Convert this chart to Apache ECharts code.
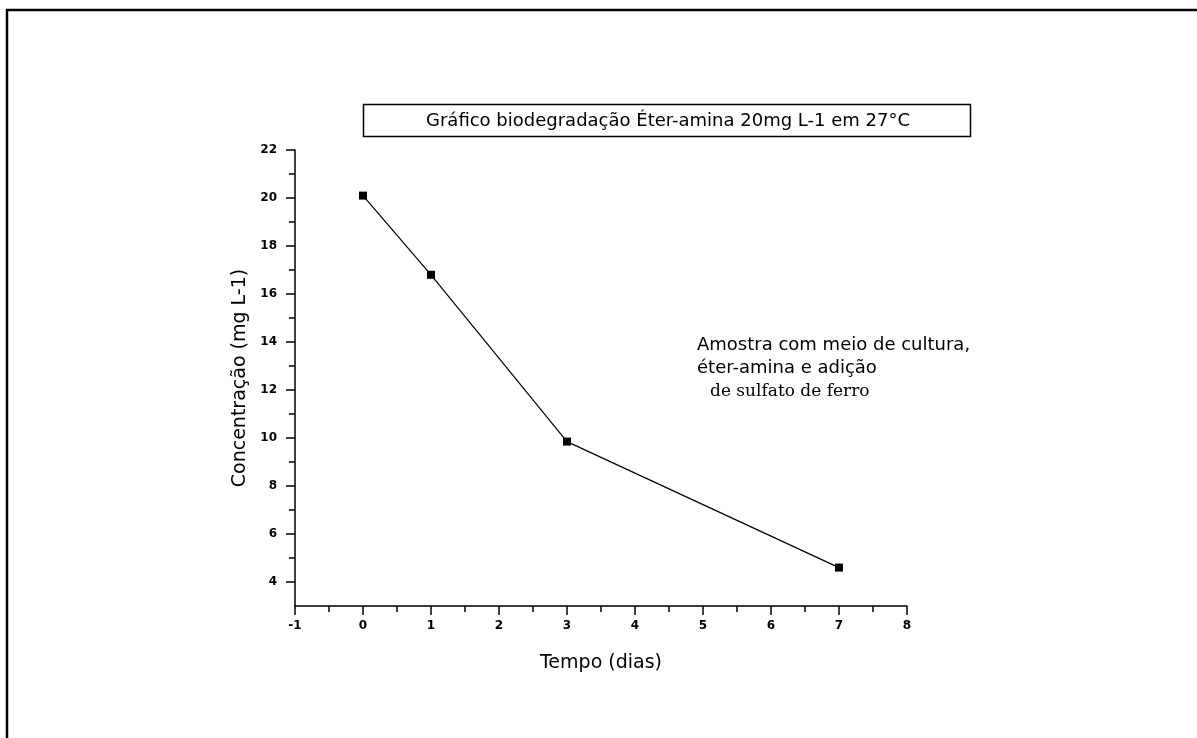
<!DOCTYPE html>
<html>
<head>
<meta charset="utf-8">
<script src="https://cdn.jsdelivr.net/npm/echarts@6/dist/echarts.min.js"></script>
<style>
html,body{margin:0;padding:0;background:#fff;}
#chart{width:1197px;height:738px;}
</style>
</head>
<body>
<div id="chart"></div>
<script>
const days = [0, 1, 3, 7];
const concentration = [20.1, 16.8, 9.85, 4.6];
const yMajorTicks = [4, 6, 8, 10, 12, 14, 16, 18, 20, 22];
const yMinorTicks = [5, 7, 9, 11, 13, 15, 17, 19, 21];
const xRange = [-1, 8];
const yRange = [3, 22];
const titleText = 'Gráfico biodegradação Éter-amina 20mg L-1 em 27°C';
const noteLines = ['Amostra com meio de cultura,', 'éter-amina e adição'];
const noteSerif = 'de sulfato de ferro';
const xName = 'Tempo (dias)';
const yName = 'Concentração (mg L-1)';

const chart = echarts.init(document.getElementById('chart'), null, {renderer: 'canvas'});
const labelFont = {color: '#000', fontFamily: 'DejaVu Sans', fontWeight: 'bold', fontSize: 12};

chart.setOption({
  animation: false,
  backgroundColor: '#fff',
  grid: {left: 295, top: 150, width: 612, height: 456, containLabel: false},
  xAxis: {
    type: 'value', min: xRange[0], max: xRange[1], interval: 1,
    name: xName, nameLocation: 'middle', nameGap: 48,
    nameTextStyle: {color: '#000', fontFamily: 'DejaVu Sans', fontSize: 19},
    axisLine: {show: true, onZero: false, lineStyle: {color: '#000', width: 1.5}},
    axisTick: {show: true, inside: false, length: 9, lineStyle: {color: '#000', width: 1.5}},
    minorTick: {show: true, splitNumber: 2, length: 6, lineStyle: {color: '#000', width: 1.5}},
    axisLabel: Object.assign({margin: 14}, labelFont),
    splitLine: {show: false}
  },
  yAxis: [{
    type: 'value', min: yRange[0], max: yRange[1],
    name: yName, nameLocation: 'middle', nameGap: 45, nameRotate: 90,
    nameTextStyle: {color: '#000', fontFamily: 'DejaVu Sans', fontSize: 19},
    axisLine: {show: true, onZero: false, lineStyle: {color: '#000', width: 1.5}},
    axisTick: {show: true, length: 9, customValues: yMajorTicks, lineStyle: {color: '#000', width: 1.5}},
    axisLabel: Object.assign({margin: 18, customValues: yMajorTicks}, labelFont),
    splitLine: {show: false}
  }, {
    type: 'value', min: yRange[0], max: yRange[1], position: 'left',
    axisLine: {show: false, onZero: false},
    axisTick: {show: true, length: 6, customValues: yMinorTicks, lineStyle: {color: '#000', width: 1.5}},
    axisLabel: {show: false},
    splitLine: {show: false}
  }],
  series: [{
    type: 'line',
    yAxisIndex: 0,
    data: days.map((d, i) => [d, concentration[i]]),
    symbol: 'rect', symbolSize: 8,
    lineStyle: {color: '#000', width: 1.2},
    itemStyle: {color: '#000'}
  }],
  graphic: [
    {type: 'rect', shape: {x: 7, y: 10, width: 1300, height: 900}, style: {fill: 'none', stroke: '#000', lineWidth: 2.5}, silent: true},
    {type: 'rect', shape: {x: 363.5, y: 104.5, width: 607, height: 32}, style: {fill: '#fff', stroke: '#000', lineWidth: 1.5}, silent: true},
    {type: 'text', x: 668, y: 121, style: {text: titleText, fill: '#000', font: '18px "DejaVu Sans"', align: 'center', verticalAlign: 'middle'}},
    {type: 'text', x: 697, y: 345, style: {text: noteLines[0], fill: '#000', font: '18px "DejaVu Sans"', align: 'left', verticalAlign: 'middle'}},
    {type: 'text', x: 697, y: 368, style: {text: noteLines[1], fill: '#000', font: '18px "DejaVu Sans"', align: 'left', verticalAlign: 'middle'}},
    {type: 'text', x: 710, y: 392, style: {text: noteSerif, fill: '#000', font: '17px "DejaVu Serif"', align: 'left', verticalAlign: 'middle'}}
  ]
});
</script>
</body>
</html>
